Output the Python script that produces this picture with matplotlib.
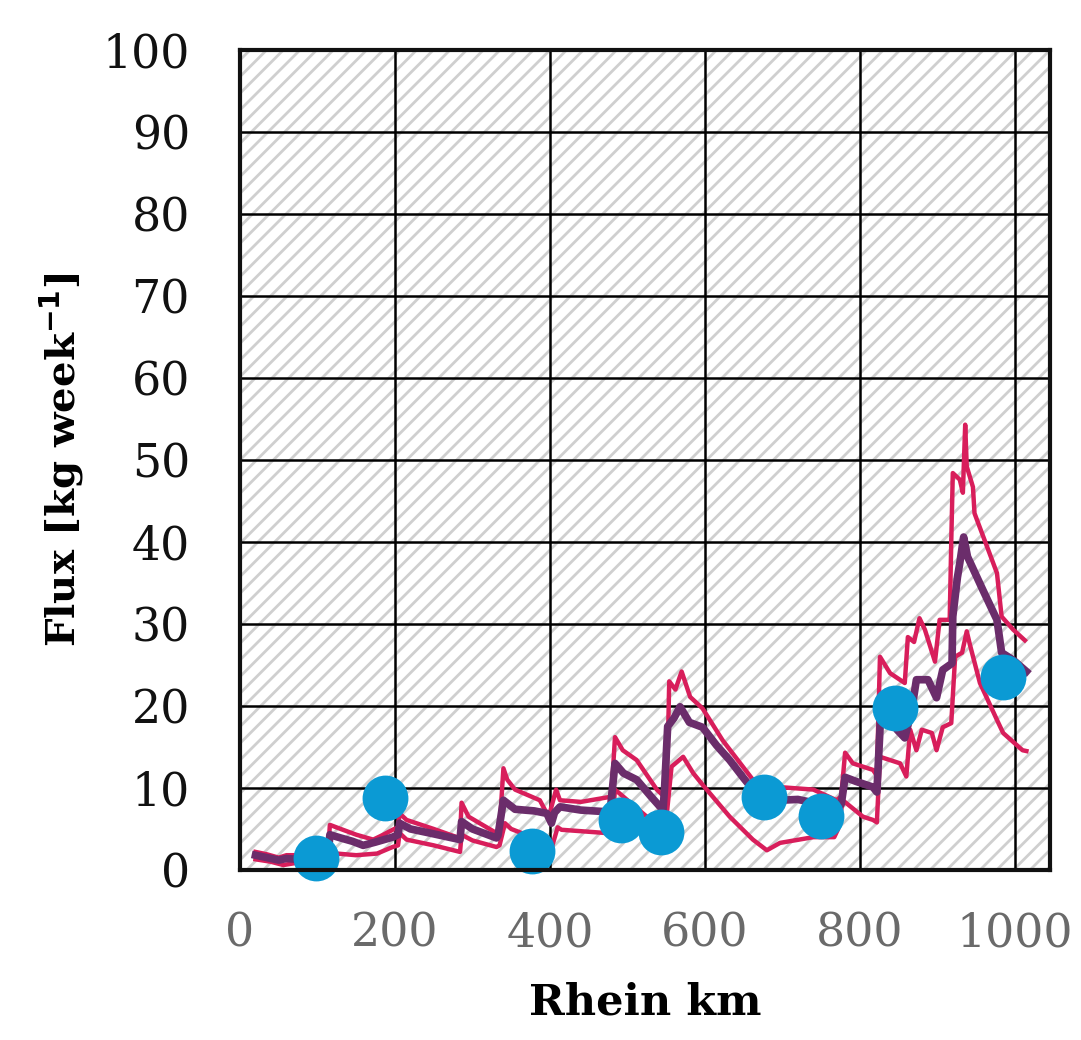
import matplotlib
matplotlib.use("Agg")
import matplotlib.pyplot as plt
from matplotlib.patches import Rectangle

# flux along the Rhine: median run and the upper / lower band
mid_km = [20, 35, 50, 60, 73, 100, 114, 116, 130, 145, 159, 175, 197, 204, 206, 220, 250, 284,
          286, 300, 331, 333, 340, 355, 380, 396, 402, 406, 413, 440, 473, 478, 484, 495, 512,
          530, 546, 548, 552, 560, 568, 580, 597, 615, 632, 650, 662, 680, 697, 720, 740, 770,
          776, 781, 795, 817, 822, 827, 838, 848, 858, 867, 873, 888, 899, 907, 919, 920, 926,
          929, 934, 939, 959, 977, 983, 998, 1015]
mid_flux = [1.8, 1.5, 1.2, 1.4, 1.3, 1.6, 1.8, 4.3, 3.9, 3.5, 3.0, 3.4, 4.0, 4.3, 5.7, 5.0, 4.4, 3.7,
            5.9, 5.0, 3.9, 4.2, 8.5, 7.4, 7.2, 6.9, 5.7, 7.0, 7.7, 7.3, 7.1, 7.4, 13.0, 11.8, 11.0,
            9.0, 7.3, 10.0, 17.5, 18.5, 19.9, 18.0, 17.4, 15.2, 13.4, 11.2, 9.8, 9.0, 8.5, 8.6, 8.2, 7.7,
            8.0, 11.3, 10.8, 10.1, 9.5, 19.0, 19.0, 17.1, 16.1, 19.5, 23.2, 23.2, 21.0, 24.4, 25.2, 30.9, 35.7,
            37.4, 40.6, 38.2, 34.1, 30.5, 26.5, 25.6, 24.2]

up_km = [20, 35, 50, 60, 73, 100, 114, 116, 130, 150, 172, 185, 197, 204, 206, 215, 250, 280,
         284, 286, 295, 331, 335, 340, 345, 355, 387, 396, 400, 408, 413, 440, 477, 480, 484,
         494, 512, 538, 548, 552, 554, 562, 570, 581, 597, 623, 662, 697, 740, 770, 776, 781,
         791, 817, 822, 826, 839, 858, 862, 870, 877, 884, 897, 903, 916, 918, 920, 929, 933,
         936, 938, 946, 948, 977, 983, 998, 1013]
up_flux = [2.2, 1.9, 1.5, 1.8, 1.8, 2.2, 2.5, 5.5, 5.0, 4.3, 3.7, 4.3, 4.9, 5.2, 6.9, 6.1, 5.0, 4.0,
           4.1, 8.2, 6.5, 4.5, 5.0, 12.4, 11.0, 9.8, 8.5, 6.9, 7.0, 9.8, 8.5, 8.3, 8.9, 10.0, 16.2,
           14.6, 13.4, 9.8, 8.9, 14.0, 23.0, 22.0, 24.2, 21.1, 19.7, 15.8, 11.0, 10.1, 9.8, 8.5, 9.0, 14.3,
           13.0, 12.2, 11.5, 26.0, 24.0, 22.8, 28.4, 27.8, 30.7, 29.3, 25.4, 30.5, 30.5, 40.0, 48.4, 47.6, 46.0,
           54.3, 49.2, 46.7, 43.5, 36.2, 30.9, 29.3, 28.0]

low_km = [20, 40, 56, 75, 100, 114, 116, 125, 150, 177, 197, 204, 206, 215, 250, 284, 286, 300,
          331, 335, 342, 350, 396, 402, 410, 415, 473, 480, 484, 494, 525, 546, 550, 557, 572,
          585, 597, 632, 662, 680, 697, 740, 767, 772, 778, 804, 817, 822, 826, 852, 860, 865,
          873, 880, 893, 899, 907, 918, 923, 932, 938, 942, 955, 977, 985, 1010, 1015]
low_flux = [1.3, 1.0, 0.6, 0.9, 1.0, 1.2, 2.8, 2.0, 1.8, 2.0, 2.8, 3.0, 4.5, 3.7, 3.0, 2.2, 4.3, 3.6,
            2.8, 3.0, 5.7, 5.0, 3.3, 2.6, 5.2, 4.9, 4.5, 5.0, 9.8, 9.0, 6.5, 4.9, 6.0, 12.6, 13.8,
            11.8, 10.4, 6.5, 3.7, 2.4, 3.3, 4.0, 4.0, 5.0, 8.5, 6.5, 6.1, 5.8, 13.8, 13.0, 11.4, 17.1,
            14.6, 17.1, 16.7, 14.6, 17.4, 17.9, 26.0, 26.5, 29.1, 27.5, 22.8, 18.3, 16.7, 14.6, 14.5]

# measured stations
obs_km = [98, 187, 377, 492, 543, 676, 750, 846, 985]
obs_flux = [1.5, 8.8, 2.3, 6.1, 4.6, 8.9, 6.6, 19.8, 23.5]

x_ticks = [0, 200, 400, 600, 800, 1000]
y_ticks = [0, 10, 20, 30, 40, 50, 60, 70, 80, 90, 100]

plt.rcParams['font.family'] = 'DejaVu Serif'
plt.rcParams['hatch.linewidth'] = 2.0

fig = plt.figure(figsize=(10.81, 10.40), dpi=100)
ax = fig.add_axes([0.222, 0.1635, 0.749, 0.7885])

# hatched background
ax.add_patch(Rectangle((0, 0), 1, 1, transform=ax.transAxes, facecolor='white',
                       edgecolor='#cfcfcf', hatch='//', linewidth=0, zorder=0.1))

ax.plot(up_km, up_flux, color='#d81e5b', lw=3.2, zorder=3)
ax.plot(low_km, low_flux, color='#d81e5b', lw=3.2, zorder=3)
ax.plot(mid_km, mid_flux, color='#6b2d6b', lw=5.5, zorder=4)
ax.plot(obs_km, obs_flux, 'o', color='#0b9ad4', markersize=33, markeredgewidth=0,
        zorder=5, clip_on=False)

ax.set_xlim(0, 1045)
ax.set_ylim(0, 100)
ax.set_xticks(x_ticks)
ax.set_yticks(y_ticks)
ax.grid(True, color='black', lw=1.8)
ax.set_axisbelow(True)

ax.tick_params(axis='both', length=0, labelsize=33)
ax.tick_params(axis='y', pad=36, labelcolor='#111111')
ax.tick_params(axis='x', pad=30, labelcolor='#6a6a6a')
for s in ax.spines.values():
    s.set_linewidth(3.0)
    s.set_color('#111111')
    s.set_zorder(6)

ax.set_xlabel('Rhein km', fontsize=31, fontweight='bold', labelpad=18)
ax.set_ylabel('Flux [kg week$^{\\mathbf{-1}}$]', fontsize=29, fontweight='bold', labelpad=12)

fig.savefig('out.png', dpi=100)
